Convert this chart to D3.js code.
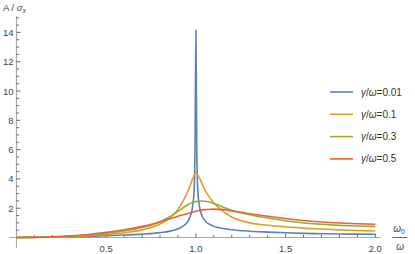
<!DOCTYPE html>
<html>
<head>
<meta charset="utf-8">
<script src="https://cdn.jsdelivr.net/npm/d3@7"></script>
<style>
  body { margin: 0; background: #fff; }
  svg { font-family: "Liberation Sans", Arial, sans-serif; }
</style>
</head>
<body>
<svg id="root" width="415" height="254"></svg>
<script>
const width = 415
const height = 254

// x = omega0 / omega
const xs = [0, 0.1, 0.2, 0.3, 0.4, 0.5, 0.6, 0.7, 0.8, 0.85, 0.9, 0.95, 0.97, 0.98, 0.99, 0.995,
  1.0, 1.005, 1.01, 1.02, 1.03, 1.05, 1.08, 1.1, 1.15, 1.2, 1.3, 1.4, 1.5, 1.6, 1.7, 1.8, 1.9, 2.0]

// A / sigma_x, one per x above
const g001 = [0, 0.01, 0.02, 0.04, 0.07, 0.12, 0.17, 0.23, 0.33, 0.42, 0.6, 1.0, 1.5, 2.0, 3.2, 6.0,
  14.14, 6.0, 3.3, 2.1, 1.6, 1.15, 0.88, 0.76, 0.62, 0.53, 0.43, 0.37, 0.32, 0.28, 0.26, 0.24, 0.23, 0.22]
const g01 = [0, 0.01, 0.03, 0.06, 0.12, 0.2, 0.32, 0.52, 0.92, 1.28, 1.92, 3.0, 3.6, 3.95, 4.25, 4.36,
  4.42, 4.38, 4.28, 4.05, 3.8, 3.25, 2.68, 2.36, 1.8, 1.4, 1.0, 0.84, 0.73, 0.64, 0.58, 0.52, 0.48, 0.44]
const g03 = [0, 0.01, 0.03, 0.08, 0.16, 0.28, 0.44, 0.68, 1.08, 1.38, 1.78, 2.2, 2.33, 2.38, 2.42, 2.44,
  2.45, 2.47, 2.48, 2.49, 2.49, 2.47, 2.4, 2.32, 2.08, 1.86, 1.55, 1.33, 1.14, 0.99, 0.9, 0.83, 0.78, 0.74]
const g05 = [0, 0.02, 0.05, 0.11, 0.2, 0.35, 0.53, 0.76, 1.06, 1.26, 1.45, 1.62, 1.69, 1.72, 1.76, 1.78,
  1.8, 1.81, 1.83, 1.85, 1.87, 1.9, 1.93, 1.94, 1.9, 1.81, 1.62, 1.45, 1.3, 1.16, 1.06, 0.99, 0.94, 0.9]

const seriesNames = ['0.01', '0.1', '0.3', '0.5']
const seriesValues = [g001, g01, g03, g05]
const colors = ['#5e81b5', '#e19c24', '#8fb032', '#eb6235']

const xTicks = [0.5, 1.0, 1.5, 2.0]
const yTicks = [2, 4, 6, 8, 10, 12, 14]

const svg = d3.select('#root')

const xScale = d3.scaleLinear().domain([0, 2]).range([16.5, 375.3])
const yScale = d3.scaleLinear().domain([0, 14]).range([237.5, 32.4])

// x axis
const xAxis = svg.append('g')
  .attr('transform', `translate(0, ${yScale(0)})`)
xAxis.append('line')
  .attr('x1', xScale(-0.04)).attr('x2', xScale(2.03))
  .attr('stroke', '#aaa').attr('stroke-width', 1.2)
xAxis.selectAll('line.minor')
  .data(d3.range(1, 21).map(d => d / 10))
  .enter().append('line')
  .attr('x1', d => xScale(d)).attr('x2', d => xScale(d))
  .attr('y1', 0).attr('y2', d => (Math.round(d * 10) % 5 === 0 ? -4 : -2.5))
  .attr('stroke', '#666').attr('stroke-width', 1)
xAxis.selectAll('text')
  .data(xTicks)
  .enter().append('text')
  .attr('x', d => xScale(d))
  .attr('y', 14)
  .attr('text-anchor', 'middle')
  .attr('fill', '#444')
  .attr('font-size', 9.5)
  .text(d => d.toFixed(1))

// y axis
const yAxis = svg.append('g')
  .attr('transform', `translate(${xScale(0)}, 0)`)
yAxis.append('line')
  .attr('y1', yScale(-0.7)).attr('y2', yScale(15.1))
  .attr('stroke', '#aaa').attr('stroke-width', 1.2)
yAxis.selectAll('line.minor')
  .data(d3.range(1, 31).map(d => d / 2))
  .enter().append('line')
  .attr('y1', d => yScale(d)).attr('y2', d => yScale(d))
  .attr('x1', 0).attr('x2', d => (d % 2 === 0 ? 4 : 2.5))
  .attr('stroke', '#666').attr('stroke-width', 1)
yAxis.selectAll('text')
  .data(yTicks)
  .enter().append('text')
  .attr('x', -3)
  .attr('y', d => yScale(d) + 3.5)
  .attr('text-anchor', 'end')
  .attr('fill', '#444')
  .attr('font-size', 9.5)
  .text(d => d)

// axis labels
const yLabel = svg.append('text')
  .attr('x', 3).attr('y', 11)
  .attr('fill', '#444').attr('font-size', 9.5)
yLabel.append('tspan').text('A / ')
yLabel.append('tspan').attr('font-style', 'italic').text('σ')
yLabel.append('tspan').attr('font-style', 'italic').attr('font-size', 7).attr('dy', 2).text('x')

const xLabel = svg.append('g').attr('transform', `translate(${xScale(2.0) + 18}, ${yScale(0)})`)
const num = xLabel.append('text').attr('x', 0).attr('y', -6)
  .attr('fill', '#444').attr('font-size', 10)
num.append('tspan').attr('font-style', 'italic').text('ω')
num.append('tspan').attr('font-size', 7).attr('dy', 2).text('0')
xLabel.append('line').attr('x1', -1).attr('x2', 14).attr('y1', 0).attr('y2', 0)
  .attr('stroke', '#444').attr('stroke-width', 0.8)
xLabel.append('text').attr('x', 3).attr('y', 12)
  .attr('fill', '#444').attr('font-size', 10).attr('font-style', 'italic').text('ω')

// curves
const line = d3.line()
  .x((d, i) => xScale(xs[i]))
  .y(d => yScale(d))
  .curve(d3.curveMonotoneX)

svg.selectAll('path.curve')
  .data(seriesValues)
  .enter().append('path')
  .attr('class', 'curve')
  .attr('d', d => line(d))
  .attr('fill', 'none')
  .attr('stroke', (d, i) => colors[i])
  .attr('stroke-width', 1.6)

// legend
const legend = svg.selectAll('g.legend')
  .data(seriesNames)
  .enter().append('g')
  .attr('class', 'legend')
  .attr('transform', (d, i) => `translate(330, ${92 + i * 22.3})`)
legend.append('line')
  .attr('x1', 0).attr('x2', 23)
  .attr('stroke', (d, i) => colors[i]).attr('stroke-width', 1.6)
const lt = legend.append('text')
  .attr('x', 31).attr('y', 3.5)
  .attr('fill', '#333').attr('font-size', 10)
lt.append('tspan').attr('font-style', 'italic').text('γ')
lt.append('tspan').text('/')
lt.append('tspan').attr('font-style', 'italic').text('ω')
lt.append('tspan').text(d => '=' + d)
</script>
</body>
</html>
